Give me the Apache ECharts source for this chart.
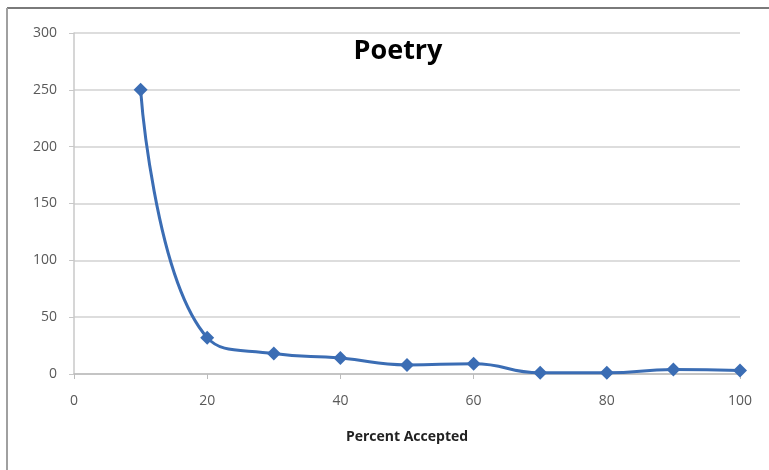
<!DOCTYPE html>
<html>
<head>
<meta charset="utf-8">
<script src="https://cdn.jsdelivr.net/npm/echarts@6/dist/echarts.min.js"></script>
<style>
  html, body { margin: 0; padding: 0; background: #fff; }
  #poetry { width: 769px; height: 470px; }
</style>
</head>
<body>
<div id="poetry"></div>
<script>
  // percent accepted vs count
  var percentAccepted = [10, 20, 30, 40, 50, 60, 70, 80, 90, 100];
  var poetryCounts = [250, 32, 18, 14, 8, 9, 1, 1, 4, 3];

  var chart = echarts.init(document.getElementById('poetry'));
  var labelColor = '#595959';
  var font = '"Open Sans", "Liberation Sans", sans-serif';

  var pts = [];
  for (var i = 0; i < percentAccepted.length; i++) {
    pts.push([percentAccepted[i], poetryCounts[i]]);
  }

  chart.setOption({
    animation: false,
    title: {
      text: 'Poetry',
      left: 393,
      textAlign: 'center',
      top: 33,
      textStyle: { fontFamily: font, fontSize: 27, fontWeight: 'bold', color: '#000' }
    },
    // frame of the original chart area (only top + left edges visible)
    graphic: [
      { type: 'line', shape: { x1: 7, y1: 8, x2: 769, y2: 8 }, style: { stroke: '#7a7a7a', lineWidth: 2 } },
      { type: 'line', shape: { x1: 7, y1: 8, x2: 7, y2: 470 }, style: { stroke: '#a0a0a0', lineWidth: 2 } }
    ],
    grid: { left: 74, right: 29, top: 33, bottom: 96 },
    xAxis: {
      type: 'value',
      min: 0,
      max: 100,
      interval: 20,
      name: 'Percent Accepted',
      nameLocation: 'middle',
      nameGap: 56,
      nameTextStyle: { fontFamily: font, fontSize: 14, fontWeight: 'bold', color: '#222' },
      axisLine: { lineStyle: { color: '#bcbcbc', width: 1.5 } },
      axisTick: { show: true, length: 5, lineStyle: { color: '#bcbcbc' } },
      axisLabel: { fontFamily: font, fontSize: 14, color: labelColor, margin: 20 },
      splitLine: { show: false }
    },
    yAxis: {
      type: 'value',
      min: 0,
      max: 300,
      interval: 50,
      axisLine: { show: true, lineStyle: { color: '#c8c8c8', width: 1.5 } },
      axisTick: { show: true, length: 5, lineStyle: { color: '#c8c8c8' } },
      axisLabel: { fontFamily: font, fontSize: 14, color: labelColor, margin: 17 },
      splitLine: { lineStyle: { color: '#d2d2d2', width: 1.5 } }
    },
    series: [{
      type: 'line',
      data: pts,
      smooth: 0.5,
      symbol: 'diamond',
      symbolSize: 14,
      lineStyle: { color: '#3b6db4', width: 3 },
      itemStyle: { color: '#3b6db4' }
    }]
  });
</script>
</body>
</html>
